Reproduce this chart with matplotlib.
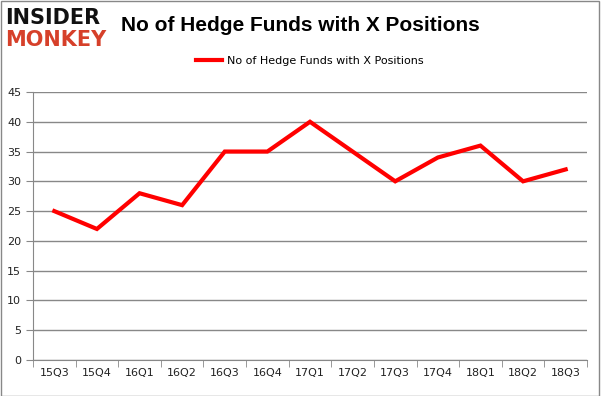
import matplotlib
matplotlib.use("Agg")
import matplotlib.pyplot as plt
from matplotlib.patches import Rectangle

quarters = ["15Q3", "15Q4", "16Q1", "16Q2", "16Q3", "16Q4", "17Q1",
            "17Q2", "17Q3", "17Q4", "18Q1", "18Q2", "18Q3"]
funds = [25, 22, 28, 26, 35, 35, 40, 35, 30, 34, 36, 30, 32]
yticks = [0, 5, 10, 15, 20, 25, 30, 35, 40, 45]

fig = plt.figure(figsize=(6.01, 3.96), dpi=100)
ax = fig.add_axes([0.0549, 0.0909, 0.9218, 0.6768])

x = list(range(len(quarters)))
ax.plot(x, funds, color="#ff0000", lw=3, solid_joinstyle="miter",
        label="No of Hedge Funds with X Positions")

ax.set_xlim(-0.5, len(quarters) - 0.5)
ax.set_ylim(0, 45)
ax.set_yticks(yticks)
ax.set_xticks(x)
ax.set_xticklabels(quarters)
ax.set_xticks([i - 0.5 for i in range(len(quarters) + 1)], minor=True)
ax.tick_params(axis="x", which="major", length=0, pad=6)
ax.tick_params(axis="x", which="minor", length=5, color="#888888")
ax.tick_params(axis="y", length=5, color="#888888", direction="out")
ax.tick_params(labelsize=8, labelcolor="#222222")
ax.grid(axis="y", color="#888888", lw=1)
ax.set_axisbelow(True)
for s in ["top", "right"]:
    ax.spines[s].set_visible(False)
for s in ["left", "bottom"]:
    ax.spines[s].set_color("#888888")

ax.legend(loc="center", bbox_to_anchor=(0.5, 1.116), frameon=False,
          fontsize=8, handlelength=2.3, handletextpad=0.5)

fig.text(0.5, 0.935, "No of Hedge Funds with X Positions", ha="center",
         va="center", fontsize=15, fontweight="bold", family="Liberation Sans")
fig.text(0.008, 0.955, "INSIDER", ha="left", va="center", fontsize=15,
         fontweight="black", color="#111111", family="DejaVu Sans")
fig.text(0.008, 0.9, "MONKEY", ha="left", va="center", fontsize=15,
         fontweight="bold", color="#d6402a", family="DejaVu Sans")

fig.patches.append(Rectangle((0.001, 0.001), 0.995, 0.997, transform=fig.transFigure,
                             fill=False, edgecolor="#888888", lw=1))

fig.savefig("out.png", dpi=100)
